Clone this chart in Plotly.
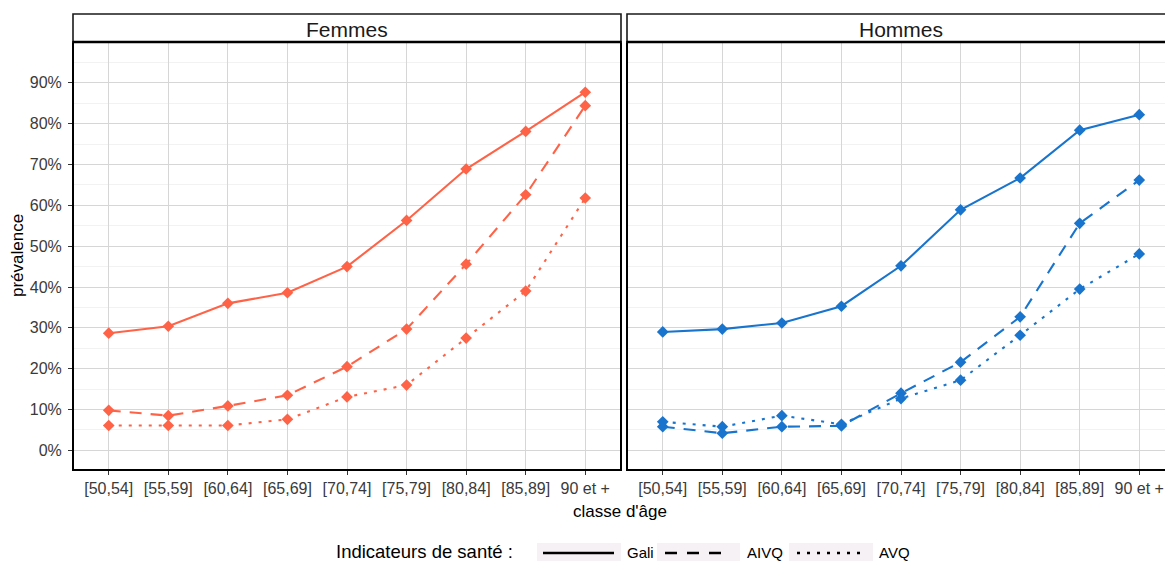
import plotly.graph_objects as go

W, H = 1165, 561

categories = ["[50,54]", "[55,59]", "[60,64]", "[65,69]", "[70,74]",
              "[75,79]", "[80,84]", "[85,89]", "90 et +"]
panels = ["Femmes", "Hommes"]
indicators = ["Gali", "AIVQ", "AVQ"]

# prevalence (%)
femmes_gali = [28.7, 30.4, 36.0, 38.6, 45.0, 56.3, 68.9, 78.1, 87.7]
femmes_aivq = [9.8, 8.5, 10.9, 13.5, 20.5, 29.7, 45.6, 62.6, 84.4]
femmes_avq = [6.1, 6.1, 6.1, 7.6, 13.1, 16.0, 27.5, 39.0, 61.8]
hommes_gali = [29.0, 29.7, 31.2, 35.3, 45.2, 58.9, 66.7, 78.4, 82.2]
hommes_aivq = [5.8, 4.2, 5.8, 6.0, 14.0, 21.6, 32.7, 55.6, 66.2]
hommes_avq = [7.0, 5.8, 8.5, 6.4, 12.7, 17.2, 28.2, 39.5, 48.1]

y_ticks = [0, 10, 20, 30, 40, 50, 60, 70, 80, 90]

COL_F = "#FF6347"
COL_H = "#1874CD"
FONT = "Liberation Sans, Arial, sans-serif"


def px(x):
    return x / W


def py(y):
    return 1 - y / H


dashes = {"Gali": "solid", "AIVQ": "12px,9px", "AVQ": "3px,7px"}

series = {
    ("Femmes", "Gali"): femmes_gali,
    ("Femmes", "AIVQ"): femmes_aivq,
    ("Femmes", "AVQ"): femmes_avq,
    ("Hommes", "Gali"): hommes_gali,
    ("Hommes", "AIVQ"): hommes_aivq,
    ("Hommes", "AVQ"): hommes_avq,
}

fig = go.Figure()
xidx = list(range(len(categories)))
for (panel, ind), vals in series.items():
    col = COL_F if panel == "Femmes" else COL_H
    ax = "" if panel == "Femmes" else "2"
    fig.add_trace(go.Scatter(
        x=xidx, y=[v / 100 for v in vals], mode="lines+markers",
        line=dict(color=col, width=2.1, dash=dashes[ind]),
        marker=dict(symbol="diamond", size=9, color=col),
        xaxis="x" + ax, yaxis="y" + ax, showlegend=False,
        name=f"{panel} {ind}", hoverinfo="skip"))

L0, L1 = 73, 621
R0, R1 = 627, 1175
T, B = 42, 470
unit = (L1 - L0) / 9.2
yrange = [-0.048, 1.0]

common_x = dict(
    tickmode="array", tickvals=xidx, ticktext=categories,
    showgrid=True, gridcolor="#D6D6D6", gridwidth=1,
    zeroline=False, showline=False,
    ticks="outside", ticklen=4, tickcolor="#333333", tickwidth=1,
    tickfont=dict(family=FONT, size=16, color="#3A3A3A"),
    fixedrange=True,
)
common_y = dict(
    range=yrange, tickmode="array", tickvals=[t / 100 for t in y_ticks],
    tickformat=".0%",
    showgrid=True, gridcolor="#D6D6D6", gridwidth=1,
    minor=dict(tickmode="array", tickvals=[t / 100 + 0.05 for t in y_ticks],
               showgrid=True, gridcolor="#F2F2F2", gridwidth=1, ticks=""),
    zeroline=False, showline=False,
    tickfont=dict(family=FONT, size=16, color="#3A3A3A"),
    domain=[py(B), py(T)], fixedrange=True,
)

fig.update_layout(
    width=W, height=H, margin=dict(l=0, r=0, t=0, b=0),
    paper_bgcolor="white", plot_bgcolor="white",
    xaxis=dict(common_x, domain=[px(L0), px(L1)], range=[-0.6, 8.6],
               anchor="y"),
    yaxis=dict(common_y, anchor="x", ticks="outside", ticklen=4,
               tickcolor="#333333", tickwidth=1, showticklabels=True,
               ticklabelstandoff=3),
    xaxis2=dict(common_x, domain=[px(R0), 1.0],
                range=[-0.6, -0.6 + (W - R0) / unit], anchor="y2"),
    yaxis2=dict(common_y, anchor="x2", showticklabels=False, ticks=""),
)

shapes = []
annotations = []
# panel frames and strips
for name, x0, x1 in [("Femmes", L0, L1), ("Hommes", R0, R1)]:
    shapes.append(dict(type="rect", xref="paper", yref="paper",
                       x0=px(x0), x1=px(x1), y0=py(B), y1=py(T),
                       line=dict(color="black", width=2), fillcolor="rgba(0,0,0,0)",
                       layer="above"))
    shapes.append(dict(type="rect", xref="paper", yref="paper",
                       x0=px(x0), x1=px(x1), y0=py(T), y1=py(14),
                       line=dict(color="#1A1A1A", width=1.6), fillcolor="white",
                       layer="above"))
    shapes.append(dict(type="line", xref="paper", yref="paper",
                       x0=px(x0), x1=px(x1), y0=py(T), y1=py(T),
                       line=dict(color="black", width=2.5), layer="above"))
    annotations.append(dict(text=name, xref="paper", yref="paper",
                            x=px((x0 + x1) / 2), y=py(29), showarrow=False,
                            xanchor="center", yanchor="middle",
                            font=dict(family=FONT, size=21, color="#1A1A1A")))

# axis titles
annotations.append(dict(text="prévalence", xref="paper", yref="paper",
                        x=px(18), y=py((T + B) / 2), textangle=-90,
                        showarrow=False, xanchor="center", yanchor="middle",
                        font=dict(family=FONT, size=17, color="black")))
annotations.append(dict(text="classe d'âge", xref="paper", yref="paper",
                        x=px(620), y=py(511), showarrow=False,
                        xanchor="center", yanchor="middle",
                        font=dict(family=FONT, size=17, color="black")))

# legend (drawn manually)
LEG_Y = 552
annotations.append(dict(text="Indicateurs de santé :", xref="paper", yref="paper",
                        x=px(334), y=py(LEG_Y - 1), showarrow=False,
                        xanchor="left", yanchor="middle",
                        font=dict(family=FONT, size=18.5, color="black")))
keys = [
    (indicators[0], 537, 621, 543, 614, "solid", 625),
    (indicators[1], 657, 740, 665, 722, "12px,10px", 745),
    (indicators[2], 789, 873, 797, 861, "3px,7px", 877),
]
for lab, b0, b1, l0, l1, dash, tx in keys:
    shapes.append(dict(type="rect", xref="paper", yref="paper",
                       x0=px(b0), x1=px(b1), y0=py(563), y1=py(543),
                       line=dict(width=0), fillcolor="#F6F1F4"))
    shapes.append(dict(type="line", xref="paper", yref="paper",
                       x0=px(l0), x1=px(l1), y0=py(LEG_Y + 1), y1=py(LEG_Y + 1),
                       line=dict(color="black", width=2.6, dash=dash)))
    annotations.append(dict(text=lab, xref="paper", yref="paper",
                            x=px(tx), y=py(LEG_Y), showarrow=False,
                            xanchor="left", yanchor="middle",
                            font=dict(family=FONT, size=15, color="black")))

fig.update_layout(shapes=shapes, annotations=annotations)
fig.write_html("out.html")
